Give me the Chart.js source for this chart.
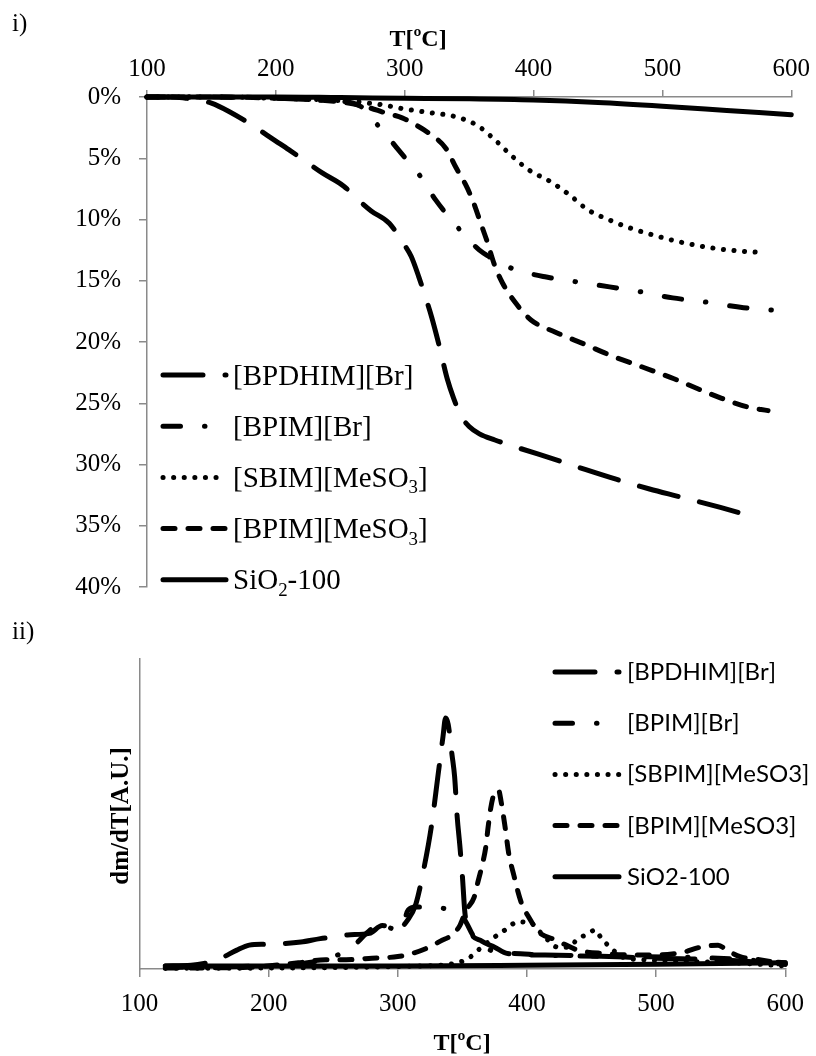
<!DOCTYPE html>
<html>
<head>
<meta charset="utf-8">
<script src="https://cdn.jsdelivr.net/npm/chart.js@4.4.1/dist/chart.umd.min.js"></script>
<style>
  html, body { margin: 0; padding: 0; background: #fff; }
  #wrap { position: relative; width: 816px; height: 1056px; }
  #tga { position: absolute; left: 0; top: 0; }
  #dtg { position: absolute; left: 0; top: 620px; }
</style>
</head>
<body>
<div id="wrap">
  <canvas id="tga" width="816" height="620"></canvas>
  <canvas id="dtg" width="816" height="436"></canvas>
</div>
<script>
// ---------- shared ticks ----------
const tempTicks = [100, 200, 300, 400, 500, 600];
const lossTicks = [0, 5, 10, 15, 20, 25, 30, 35, 40];

// ---------- i) mass loss [%] vs T ----------
// '_' marks the next character as subscript
const tgaLabels = ['[BPDHIM][Br]', '[BPIM][Br]', '[SBIM][MeSO_3]', '[BPIM][MeSO_3]', 'SiO_2-100'];

const tgaT_BPDHIM = [100, 120, 130, 140, 150, 164, 180, 200, 210, 225, 236, 253, 265, 274, 288, 298, 305, 311, 316, 321, 327, 333, 338, 344, 350, 358, 370, 390, 417, 440, 464, 490, 512, 545, 575];
const tgaL_BPDHIM = [0, 0, 0.1, 0.25, 0.5, 1.2, 2.2, 3.6, 4.3, 5.4, 6.2, 7.3, 8.5, 9.3, 10.3, 11.8, 13, 14.7, 16.3, 18, 20.4, 23, 24.6, 26.1, 26.9, 27.5, 28, 28.7, 29.6, 30.4, 31.2, 32, 32.6, 33.5, 34.4];

const tgaT_BPIMBr = [100, 150, 200, 240, 260, 270, 275, 285, 295, 303, 311, 324, 336, 351, 358, 365, 375, 386, 410, 434, 459, 483, 508, 531, 563, 600];
const tgaL_BPIMBr = [0, 0, 0.1, 0.3, 0.5, 1.1, 1.8, 3, 4.3, 5.3, 6.3, 8.4, 10, 11.8, 12.5, 13, 13.6, 14.1, 14.7, 15.1, 15.5, 15.9, 16.4, 16.7, 17.2, 17.5];

const tgaT_SBIM = [100, 150, 200, 250, 280, 301, 321, 339, 356, 370, 383, 397, 413, 428, 442, 458, 475, 494, 512, 537, 562, 580];
const tgaL_SBIM = [0, 0, 0.1, 0.3, 0.6, 1.0, 1.3, 1.6, 2.3, 3.5, 4.8, 6, 6.9, 8, 9.2, 10, 10.7, 11.3, 11.8, 12.3, 12.6, 12.7];

const tgaT_BPIMMs = [100, 150, 200, 250, 270, 285, 298, 309, 318, 332, 340, 347, 353, 359, 364, 370, 376, 386, 398, 417, 440, 460, 486, 509, 527, 546, 566, 582];
const tgaL_BPIMMs = [0, 0, 0.1, 0.4, 0.8, 1.3, 1.7, 2.3, 2.9, 4.2, 5.8, 7.1, 8.5, 10.3, 11.8, 13.8, 15.2, 16.8, 18.2, 19.2, 20.2, 21.1, 22.1, 23, 23.8, 24.6, 25.3, 25.6];

const tgaT_SiO2 = [100, 150, 200, 250, 300, 350, 400, 450, 500, 550, 600];
const tgaL_SiO2 = [0, 0, 0, 0.05, 0.1, 0.15, 0.25, 0.45, 0.75, 1.1, 1.45];

// ---------- ii) dm/dT [A.U.] vs T ----------
const dtgLabels = ['[BPDHIM][Br]', '[BPIM][Br]', '[SBPIM][MeSO3]', '[BPIM][MeSO3]', 'SiO2-100'];

const dtgT_BPDHIM = [120, 140, 150, 163, 175, 185, 197, 208, 225, 240, 250, 261, 278, 288, 300, 308, 314, 320, 326, 331, 335, 337, 339, 342, 344, 346, 348, 350, 352, 356, 365, 375, 385, 414, 450, 500, 550, 600];
const dtgV_BPDHIM = [1, 1.2, 1.8, 3.5, 6, 7.7, 8, 8.1, 8.7, 9.8, 10.3, 11, 11.5, 14, 13, 16, 21, 32, 46, 62, 75, 81, 79, 69, 62, 49, 40, 30, 18, 12, 9, 7, 5, 4.5, 4.2, 3.5, 3, 1.5];

const dtgT_BPIMBr = [120, 180, 230, 250, 264, 276, 288, 296, 303, 308, 314, 322, 329, 336, 342, 348, 353, 358, 365, 372, 380, 390, 410, 440, 480, 520, 560, 600];
const dtgV_BPIMBr = [0.5, 0.8, 2, 4, 6.8, 11.6, 15, 13, 13.5, 19, 20, 20, 20, 19.5, 19, 18, 15, 11, 8, 6, 5, 5, 4.5, 4.2, 4, 3.8, 3.2, 2];

const dtgT_SBIM = [120, 200, 260, 300, 320, 340, 350, 355, 362, 372, 383, 393, 403, 410, 416, 424, 432, 440, 446, 453, 457, 461, 467, 473, 490, 520, 560, 600];
const dtgV_SBIM = [0.2, 0.3, 0.5, 0.8, 1, 1.5, 2.5, 3.5, 6, 9.4, 12.6, 15.2, 14.8, 12, 9.4, 7, 7, 10, 11, 12.6, 10.3, 8.4, 6, 4, 3, 2.5, 2, 1];

const dtgT_BPIMMs = [120, 180, 223, 244, 260, 280, 300, 311, 324, 333, 342, 348, 353, 359, 362, 365, 368, 370, 372, 375, 378, 380, 383, 386, 390, 393, 396, 401, 409, 422, 430, 440, 460, 483, 500, 515, 522, 532, 540, 548, 555, 565, 580, 600];
const dtgV_BPIMMs = [0.3, 0.5, 2, 3, 3, 3.5, 4, 5, 7, 9, 11, 14, 19, 23, 28, 33, 39, 46, 52, 57, 57.7, 54, 46, 37, 30, 25, 21, 17, 12, 9.4, 7.8, 6, 5, 4.5, 4.5, 5, 5.5, 6.8, 7.4, 7.7, 6, 4, 3, 1.5];

const dtgT_SiO2 = [120, 200, 300, 400, 500, 600];
const dtgV_SiO2 = [1, 1, 1, 1.2, 1.5, 2];

// ---------- styles ----------
const AXIS_GREY = '#8a8a8a';
const SERIF = 'Liberation Serif';
const SANS = 'Lato';

const styleLongDash = [40, 22];
const styleDashDot  = [17.5, 24, 0.5, 24];
const styleDot      = [0.1, 10.5];
const styleDash     = [12, 13];
const styleSolid    = [];
const seriesDash = [styleLongDash, styleDashDot, styleDot, styleDash, styleSolid];

function toPoints(xs, ys) {
    return xs.map((x, i) => ({ x: x, y: ys[i] }));
}

function makeSet(label, xs, ys, dash) {
    return {
        label: label,
        data: toPoints(xs, ys),
        borderColor: '#000',
        borderWidth: 5,
        borderDash: dash,
        borderCapStyle: 'round',
        borderJoinStyle: 'round',
        pointRadius: 0,
        cubicInterpolationMode: 'monotone',
        fill: false,
        clip: 6
    };
}

// text with simple '_x' subscripts
function drawRich(ctx, text, x, y, family, size, weight) {
    const w = weight || 'normal';
    let cx = x;
    for (let i = 0; i < text.length; i++) {
        let ch = text[i];
        let sub = false;
        if (ch === '_' && i + 1 < text.length) { ch = text[++i]; sub = true; }
        const fs = sub ? size * 0.65 : size;
        ctx.font = w + ' ' + fs + 'px "' + family + '"';
        ctx.fillText(ch, cx, sub ? y + size * 0.22 : y);
        cx += ctx.measureText(ch).width;
    }
}

function drawLegend(ctx, sets, opt) {
    sets.forEach((ds, i) => {
        const y = opt.y0 + i * opt.dy;
        ctx.save();
        ctx.strokeStyle = '#000';
        ctx.lineWidth = ds.borderWidth;
        ctx.lineCap = 'round';
        ctx.setLineDash(ds.borderDash);
        ctx.beginPath();
        ctx.moveTo(opt.x0, y);
        ctx.lineTo(opt.x1, y);
        ctx.stroke();
        ctx.restore();
        ctx.fillStyle = '#000';
        ctx.textBaseline = 'alphabetic';
        drawRich(ctx, ds.label, opt.tx, y + opt.size * 0.33, opt.family, opt.size);
    });
}

function fixTicks(list) {
    return function (scale) {
        scale.ticks = list.map(v => ({ value: v }));
    };
}

// ==========================================================
// CHART i)
// ==========================================================
const tgaSets = [
    makeSet(tgaLabels[0], tgaT_BPDHIM, tgaL_BPDHIM, seriesDash[0]),
    makeSet(tgaLabels[1], tgaT_BPIMBr, tgaL_BPIMBr, seriesDash[1]),
    makeSet(tgaLabels[2], tgaT_SBIM, tgaL_SBIM, seriesDash[2]),
    makeSet(tgaLabels[3], tgaT_BPIMMs, tgaL_BPIMMs, seriesDash[3]),
    makeSet(tgaLabels[4], tgaT_SiO2, tgaL_SiO2, seriesDash[4])
];

const tgaDecor = {
    id: 'tgaDecor',
    afterDraw(chart) {
        const ctx = chart.ctx;
        ctx.save();
        ctx.fillStyle = '#000';
        ctx.textBaseline = 'middle';
        ctx.textAlign = 'left';
        ctx.font = '25px "' + SERIF + '"';
        ctx.fillText('i)', 12, 24);
        ctx.textAlign = 'center';
        ctx.font = 'bold 24px "' + SERIF + '"';
        ctx.fillText('T[ºC]', 418, 40);
        ctx.textAlign = 'left';
        drawLegend(ctx, chart.data.datasets, {
            x0: 163, x1: 226, tx: 233, y0: 375, dy: 51.2, family: SERIF, size: 29
        });
        ctx.restore();
    }
};

new Chart(document.getElementById('tga'), {
    type: 'line',
    data: { datasets: tgaSets },
    options: {
        responsive: false,
        animation: false,
        layout: { padding: { left: 0, top: 0, right: 21, bottom: 15 } },
        plugins: { legend: { display: false }, tooltip: { enabled: false } },
        scales: {
            x: {
                type: 'linear',
                position: 'top',
                min: 100, max: 600,
                afterBuildTicks: fixTicks(tempTicks),
                afterFit: s => { s.height = 97; },
                ticks: { color: '#000', font: { family: SERIF, size: 25 }, padding: 6, maxRotation: 0 },
                grid: { drawOnChartArea: false, drawTicks: true, tickLength: 7, color: AXIS_GREY, lineWidth: 1.5 },
                border: { color: AXIS_GREY, width: 1.5 }
            },
            y: {
                type: 'linear',
                reverse: true,
                min: 0, max: 40,
                afterBuildTicks: fixTicks(lossTicks),
                afterFit: s => { s.width = 147; },
                ticks: { color: '#000', font: { family: SERIF, size: 25 }, padding: 18, callback: v => v + '%' },
                grid: { drawOnChartArea: false, drawTicks: true, tickLength: 8, color: AXIS_GREY, lineWidth: 1.5 },
                border: { color: AXIS_GREY, width: 1.5 }
            }
        }
    },
    plugins: [tgaDecor]
});

// ==========================================================
// CHART ii)
// ==========================================================
const dtgSets = [
    makeSet(dtgLabels[0], dtgT_BPDHIM, dtgV_BPDHIM, seriesDash[0]),
    makeSet(dtgLabels[1], dtgT_BPIMBr, dtgV_BPIMBr, seriesDash[1]),
    makeSet(dtgLabels[2], dtgT_SBIM, dtgV_SBIM, seriesDash[2]),
    makeSet(dtgLabels[3], dtgT_BPIMMs, dtgV_BPIMMs, seriesDash[3]),
    makeSet(dtgLabels[4], dtgT_SiO2, dtgV_SiO2, seriesDash[4])
];

const dtgDecor = {
    id: 'dtgDecor',
    afterDraw(chart) {
        const ctx = chart.ctx;
        ctx.save();
        ctx.fillStyle = '#000';
        ctx.textBaseline = 'middle';
        ctx.textAlign = 'left';
        ctx.font = '25px "' + SERIF + '"';
        ctx.fillText('ii)', 12, 12);
        ctx.textAlign = 'center';
        ctx.font = 'bold 24px "' + SERIF + '"';
        ctx.fillText('T[ºC]', 462, 424);
        ctx.save();
        ctx.translate(122, 196);
        ctx.rotate(-Math.PI / 2);
        ctx.font = 'bold 25px "' + SERIF + '"';
        ctx.fillText('dm/dT[A.U.]', 0, 0);
        ctx.restore();
        ctx.textAlign = 'left';
        drawLegend(ctx, chart.data.datasets, {
            x0: 555, x1: 619, tx: 627, y0: 52, dy: 51.2, family: SANS, size: 24
        });
        ctx.restore();
    }
};

new Chart(document.getElementById('dtg'), {
    type: 'line',
    data: { datasets: dtgSets },
    options: {
        responsive: false,
        animation: false,
        layout: { padding: { left: 0, top: 39, right: 27, bottom: 0 } },
        plugins: { legend: { display: false }, tooltip: { enabled: false } },
        scales: {
            x: {
                type: 'linear',
                position: 'bottom',
                min: 100, max: 600,
                afterBuildTicks: fixTicks(tempTicks),
                afterFit: s => { s.height = 87; },
                ticks: { color: '#000', font: { family: SERIF, size: 25 }, padding: 12, maxRotation: 0 },
                grid: { drawOnChartArea: false, drawTicks: true, tickLength: 8, color: AXIS_GREY, lineWidth: 1.5 },
                border: { color: AXIS_GREY, width: 1.5 }
            },
            y: {
                type: 'linear',
                min: 0, max: 100,
                afterFit: s => { s.width = 139.5; },
                ticks: { display: false },
                grid: { display: false },
                border: { color: AXIS_GREY, width: 1.5 }
            }
        }
    },
    plugins: [dtgDecor]
});
</script>
</body>
</html>
